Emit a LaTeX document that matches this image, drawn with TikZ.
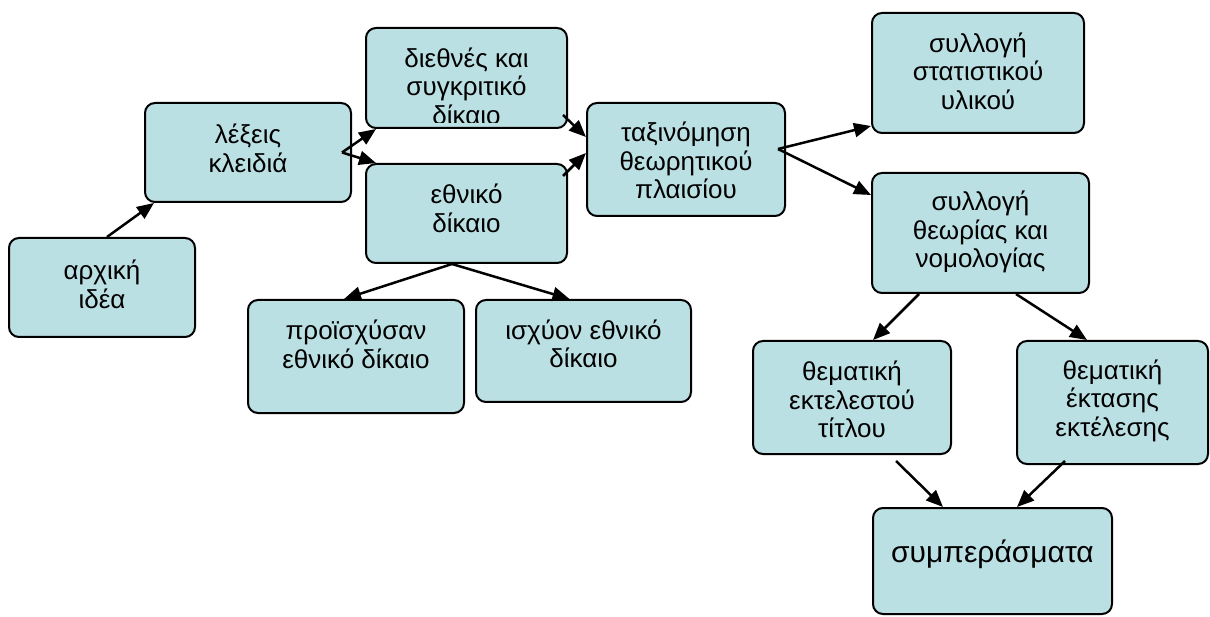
\documentclass[tikz,border=0pt]{standalone}
\usepackage{fontspec}
\setmainfont{Liberation Sans}
\usetikzlibrary{positioning,arrows.meta}
\definecolor{boxfill}{RGB}{187,224,227}
\tikzset{
  box/.style={draw,line width=2pt,rounded corners=10pt,fill=boxfill,inner sep=0pt},
  txt/.style={align=center,inner sep=0pt,font=\fontsize{26}{28.5}\selectfont},
  arr/.style={line width=2.5pt,-{Triangle[length=17pt,width=14pt]}}
}

\begin{document}
\begin{tikzpicture}[x=1pt,y=-1pt]
\useasboundingbox (0,0) rectangle (1210,617);

\node[box,minimum width=186pt,minimum height=99pt] at (102,287.5) (idea) {};
\node[box,minimum width=206pt,minimum height=99pt] at (248,152.5) (keywords) {};
\node[box,minimum width=201pt,minimum height=100pt] at (466.5,78) (intl) {};
\node[box,minimum width=201pt,minimum height=99pt] at (466.5,213.5) (national) {};
\node[box,minimum width=198pt,minimum height=113pt] at (686,159.5) (classify) {};
\node[box,minimum width=212pt,minimum height=120pt] at (978,73) (stats) {};
\node[box,minimum width=217pt,minimum height=120pt] at (980.5,233) (theory) {};
\node[box,minimum width=216pt,minimum height=113pt] at (356,356.5) (prior) {};
\node[box,minimum width=215pt,minimum height=102pt] at (583.5,351) (current) {};
\node[box,minimum width=198pt,minimum height=113pt] at (852,397.5) (title) {};
\node[box,minimum width=191pt,minimum height=123pt] at (1112.5,402.5) (extent) {};
\node[box,minimum width=239pt,minimum height=106pt] at (992.5,561) (concl) {};

% texts
\node[txt] at ([yshift=3pt]idea) (idea-t) {αρχική\\ιδέα};
\node[txt] at ([yshift=4pt]keywords) (keywords-t) {λέξεις\\κλειδιά};
\begin{scope}
  \clip ([yshift=6pt]intl.south west) rectangle (intl.north east);
  \node[txt] at ([yshift=-8pt]intl) (intl-t) {διεθνές και\\συγκριτικό\\δίκαιο};
\end{scope}
\node[txt] at ([yshift=5pt]national) (national-t) {εθνικό\\δίκαιο};
\node[txt] at ([yshift=-1pt]classify) (classify-t) {ταξινόμηση\\θεωρητικού\\πλαισίου};
\node[txt] at ([yshift=2pt]stats) (stats-t) {συλλογή\\στατιστικού\\υλικού};
\node[txt] at ([yshift=1pt]theory) (theory-t) {συλλογή\\θεωρίας και\\νομολογίας};
\node[txt] at ([yshift=12pt]prior) (prior-t) {προϊσχύσαν\\εθνικό δίκαιο};
\node[txt] at ([yshift=7pt]current) (current-t) {ισχύον εθνικό\\δίκαιο};
\node[txt] at ([yshift=-2pt]title) (title-t) {θεματική\\εκτελεστού\\τίτλου};
\node[txt] at ([yshift=2pt]extent) (extent-t) {θεματική\\έκτασης\\εκτέλεσης};
\node[txt,font=\fontsize{30}{36}\selectfont] at ([yshift=7pt]concl) (concl-t) {συμπεράσματα};

% connectors
\draw[arr] ([xshift=5pt]idea.north) -- ([xshift=10pt]keywords.south west);
\draw[arr] ([xshift=-10pt]keywords.east) -- ([xshift=11pt]intl.south west);
\draw[arr] ([xshift=-10pt]keywords.east) -- ([xshift=11pt]national.north west);
\draw[arr] ([xshift=-5pt,yshift=14pt]intl.south east) -- ([yshift=22.5pt]classify.west);
\draw[arr] ([xshift=-5pt,yshift=-13pt]national.north east) -- ([yshift=6.5pt]classify.west);
\draw[arr] ([xshift=-8pt,yshift=10.5pt]classify.east) -- ([yshift=8pt]stats.south west);
\draw[arr] ([xshift=-8pt,yshift=10.5pt]classify.east) -- ([yshift=-23pt]theory.north west);
\draw[arr] ([xshift=-14.5pt]national.south) -- ([xshift=-12pt]prior.north);
\draw[arr] ([xshift=-14.5pt]national.south) -- ([xshift=-14pt]current.north);
\draw[arr] ([xshift=-61.5pt]theory.south) -- ([xshift=21pt]title.north);
\draw[arr] ([xshift=35.5pt]theory.south) -- ([xshift=-25.5pt]extent.north);
\draw[arr] ([xshift=44pt,yshift=-6pt]title.south) -- ([xshift=-49.5pt]concl.north);
\draw[arr] ([xshift=-47.5pt,yshift=4pt]extent.south) -- ([xshift=24.5pt]concl.north);
\end{tikzpicture}
\end{document}
